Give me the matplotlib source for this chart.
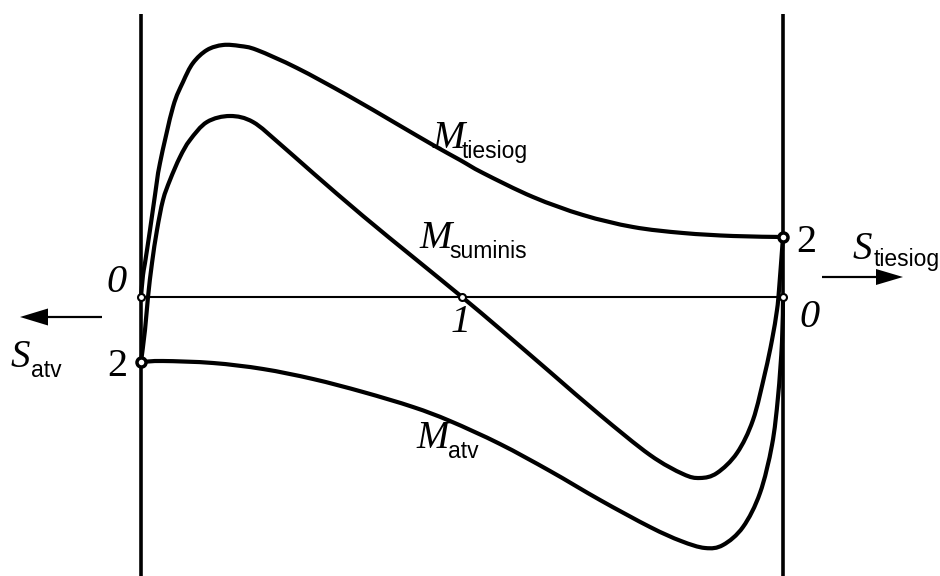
import matplotlib
matplotlib.use("Agg")
import matplotlib.pyplot as plt
from matplotlib.path import Path
from matplotlib.patches import PathPatch

# ---- data (x: position between the two walls, y: moment; up = positive) ----
tiesiog_x = [0, 2, 4, 9, 14, 19, 32, 42, 52, 66, 82, 99, 116, 156, 206, 256, 292,
             319, 342, 392, 442, 492, 542, 592, 642]
tiesiog_y = [0, 22, 34, 67, 102, 134, 190, 215, 234, 247, 252, 251, 247, 229, 202,
             173, 152, 137, 124, 100, 82, 70, 64, 61, 60]

suminis_x = [0, 4, 7, 11, 16, 22, 29, 39, 49, 66, 89, 112, 139, 172, 222, 272, 321,
             359, 409, 459, 509, 542, 559, 576, 596, 612, 624, 631, 636, 638, 642]
suminis_y = [-65, -33, 0, 34, 67, 97, 117, 140, 157, 175, 181, 175, 153, 124, 81, 40,
             0, -32, -75, -118, -158, -177, -181, -176, -156, -123, -76, -43, -13, 7, 60]

atv_x = [0, 22, 72, 122, 172, 222, 272, 309, 359, 409, 459, 509, 540, 564, 582, 602,
         619, 631, 637, 641, 642]
atv_y = [-65, -64, -66, -72, -82, -95, -110, -124, -147, -174, -203, -230, -244, -251,
         -248, -230, -196, -148, -100, -45, 0]

zero_pts_x = [0, 321, 642]
zero_pts_y = [0, 0, 0]
two_pts_x = [0, 642]
two_pts_y = [-65, 60]

W, H = 940, 576
X0, Y0 = 141, 297  # pixel position of the origin

fig = plt.figure(figsize=(W / 100, H / 100), dpi=100)
ax = fig.add_axes([0, 0, 1, 1])
ax.set_xlim(-X0, W - X0)
ax.set_ylim(Y0 - H, Y0)
ax.axis("off")


def P(px, py):
    return px - X0, Y0 - py


def smooth_path(xs, ys):
    """Cubic Bezier path through the given points (Catmull-Rom tangents)."""
    pts = list(zip(xs, ys))
    n = len(pts)
    verts = [pts[0]]
    codes = [Path.MOVETO]
    for i in range(n - 1):
        p0 = pts[i - 1] if i > 0 else pts[i]
        p1 = pts[i]
        p2 = pts[i + 1]
        p3 = pts[i + 2] if i + 2 < n else pts[i + 1]
        c1 = (p1[0] + (p2[0] - p0[0]) / 6, p1[1] + (p2[1] - p0[1]) / 6)
        c2 = (p2[0] - (p3[0] - p1[0]) / 6, p2[1] - (p3[1] - p1[1]) / 6)
        verts += [c1, c2, p2]
        codes += [Path.CURVE4] * 3
    return Path(verts, codes)


# walls
for wx in (0, 642):
    ax.plot([wx, wx], [Y0 - H, Y0 - 14], color="black", lw=2.6, solid_capstyle="butt", zorder=2)
# base line
ax.plot([0, 642], [0, 0], color="black", lw=1.5, zorder=2)

# curves
for xs, ys in ((tiesiog_x, tiesiog_y), (suminis_x, suminis_y), (atv_x, atv_y)):
    ax.add_patch(PathPatch(smooth_path(xs, ys), fill=False, edgecolor="black",
                           lw=3.0, joinstyle="round", capstyle="round", zorder=3))

# points
ax.plot(zero_pts_x, zero_pts_y, "o", ms=5, mfc="white", mec="black", mew=1.5, zorder=5)
ax.plot(two_pts_x, two_pts_y, "o", ms=6.5, mfc="white", mec="black", mew=2.5, zorder=5)

serif = "Liberation Serif"
sans = "Liberation Sans"
BIG = 28
SUB = 16.5


def label(main, sub, mp, sp):
    ax.text(*P(*mp), main, family=serif, style="italic", fontsize=BIG,
            ha="left", va="baseline")
    ax.text(*P(*sp), sub, family=sans, fontsize=SUB, ha="left", va="baseline")


label("M", "tiesiog", (432, 148), (462, 158))
label("M", "suminis", (419, 248), (449, 258))
label("M", "atv", (416, 448), (448, 458))
label("S", "atv", (11, 367), (31, 377))
label("S", "tiesiog", (853, 259), (874, 266))

# point labels
ax.text(*P(106, 292), "0", family=serif, style="italic", fontsize=29, ha="left", va="baseline")
ax.text(*P(799, 327), "0", family=serif, style="italic", fontsize=29, ha="left", va="baseline")
ax.text(*P(451, 332), "1", family=serif, style="italic", fontsize=29, ha="left", va="baseline")
ax.text(*P(107, 376), "2", family=serif, fontsize=29, ha="left", va="baseline")
ax.text(*P(796, 252), "2", family=serif, fontsize=29, ha="left", va="baseline")

# direction arrows
ax.arrow(*P(102, 317), -82, 0, width=2.2, head_width=17, head_length=28,
         length_includes_head=True, color="black", lw=0)
ax.arrow(*P(822, 277), 81, 0, width=2.2, head_width=16, head_length=27,
         length_includes_head=True, color="black", lw=0)

fig.savefig("out.png", dpi=100)
